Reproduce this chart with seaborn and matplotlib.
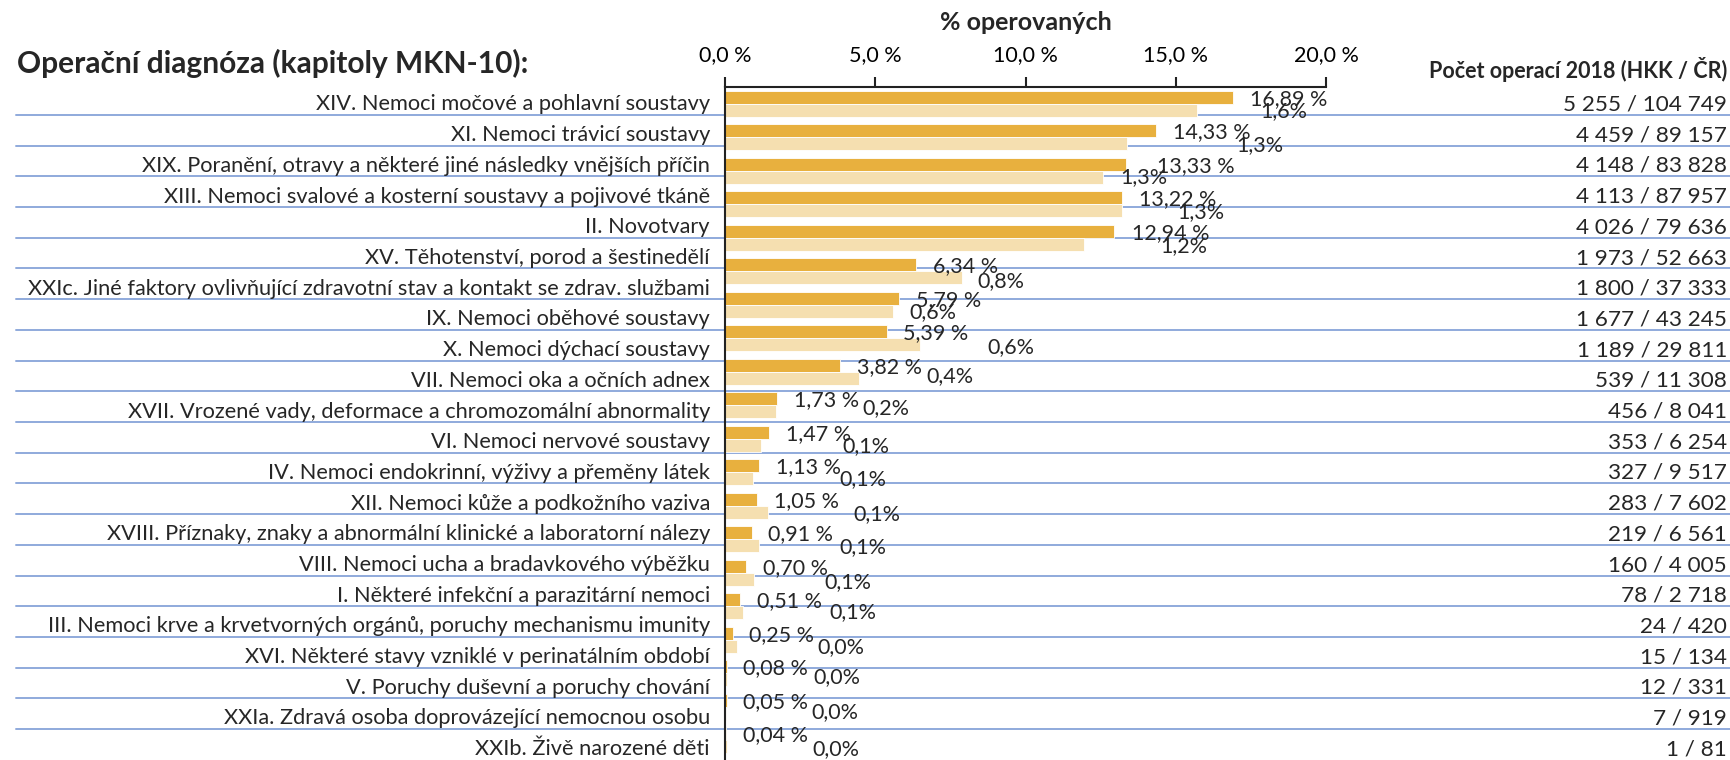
import matplotlib
matplotlib.use("Agg")
import pandas as pd
import matplotlib.pyplot as plt
from matplotlib.lines import Line2D
import seaborn as sns

W, H = 1731, 760

CATEGORIES = [
    "XIV. Nemoci močové a pohlavní soustavy",
    "XI. Nemoci trávicí soustavy",
    "XIX. Poranění, otravy a některé jiné následky vnějších příčin",
    "XIII. Nemoci svalové a kosterní soustavy a pojivové tkáně",
    "II. Novotvary",
    "XV. Těhotenství, porod a šestinedělí",
    "XXIc. Jiné faktory ovlivňující zdravotní stav a kontakt se zdrav. službami",
    "IX. Nemoci oběhové soustavy",
    "X. Nemoci dýchací soustavy",
    "VII. Nemoci oka a očních adnex",
    "XVII. Vrozené vady, deformace a chromozomální abnormality",
    "VI. Nemoci nervové soustavy",
    "IV. Nemoci endokrinní, výživy a přeměny látek",
    "XII. Nemoci kůže a podkožního vaziva",
    "XVIII. Příznaky, znaky a abnormální klinické a laboratorní nálezy",
    "VIII. Nemoci ucha a bradavkového výběžku",
    "I. Některé infekční a parazitární nemoci",
    "III. Nemoci krve a krvetvorných orgánů, poruchy mechanismu imunity",
    "XVI. Některé stavy vzniklé v perinatálním období",
    "V. Poruchy duševní a poruchy chování",
    "XXIa. Zdravá osoba doprovázející nemocnou osobu",
    "XXIb. Živě narozené děti",
]

# % operovanych (bars)
HKK_PCT = [16.89, 14.33, 13.33, 13.22, 12.94, 6.34, 5.79, 5.39, 3.82, 1.73, 1.47,
           1.13, 1.05, 0.91, 0.70, 0.51, 0.25, 0.08, 0.05, 0.04, 0.02, 0.003]
CR_PCT = [15.72, 13.38, 12.58, 13.20, 11.95, 7.90, 5.60, 6.49, 4.47, 1.70, 1.21,
          0.94, 1.43, 1.14, 0.98, 0.60, 0.41, 0.06, 0.02, 0.05, 0.14, 0.01]

# pocet operaci 2018
HKK_COUNTS = [5255, 4459, 4148, 4113, 4026, 1973, 1800, 1677, 1189, 539, 456,
              353, 327, 283, 219, 160, 78, 24, 15, 12, 7, 1]
CR_COUNTS = [104749, 89157, 83828, 87957, 79636, 52663, 37333, 43245, 29811, 11308, 8041,
             6254, 9517, 7602, 6561, 4005, 2718, 420, 134, 331, 919, 81]

X_TICKS = [0, 5, 10, 15, 20]

# label nudges in pixels (hand placed in the original)
HKK_LABEL_DX = [17, 17, 31, 17, 18, 17, 17, 16, 17, 17, 17, 17, 17, 16, 17, 17, 16, 16, 16, 17, 17, 17]
CR_LABEL_DX = [28, 81, -5, 55, 46, 62, 10, 100, 87, 85, 73, 80, 97, 87, 78, 89, 85, 86, 85, 86, 86, 86]
CR_LABEL_DY = [7.5, 8, 6.5, 8, 8.5, 10, 7.5, 9, 4.5, 3, 7.5, 7, 8.5, 8, 9.5, 6, 7.5, 4, 5.5, 9, 8, 8]

sns.set_style("white")
plt.rcParams["font.family"] = ["Lato", "DejaVu Sans"]

C_HKK = "#E8B03E"
C_CR = "#F5DFB0"
C_LINE = "#8FAADC"

df = pd.DataFrame({
    "kapitola": CATEGORIES * 2,
    "podil": HKK_PCT + CR_PCT,
    "oblast": ["HKK"] * len(CATEGORIES) + ["ČR"] * len(CATEGORIES),
})

fig = plt.figure(figsize=(W / 100, H / 100), dpi=100)

pitch = 33.5
ax_top = 87
ax_h = pitch * len(CATEGORIES)
ax = fig.add_axes([725 / W, 1 - (ax_top + ax_h) / H, (1326 - 725) / W, ax_h / H])
ax.set_facecolor("none")

sns.barplot(data=df, x="podil", y="kapitola", hue="oblast", hue_order=["HKK", "ČR"],
            palette=[C_HKK, C_CR], order=CATEGORIES, orient="h", width=0.764,
            saturation=1, errorbar=None, edgecolor="white", linewidth=0.6,
            legend=False, ax=ax)

ax.set_xlim(0, 20)
ax.set_ylim(len(CATEGORIES) - 0.5, -0.5)
ax.set_yticks([])
ax.set_ylabel("")
ax.set_xlabel("")
ax.xaxis.tick_top()
ax.set_xticks(X_TICKS)
ax.set_xticklabels([f"{t:.1f} %".replace(".", ",") for t in X_TICKS])
ax.tick_params(axis="x", direction="out", length=7, width=1.5, pad=9,
               labelsize=15.5, colors="#222222", labelcolor="black")
for side in ["right", "bottom"]:
    ax.spines[side].set_visible(False)
for side in ["left", "top"]:
    ax.spines[side].set_color("#222222")
    ax.spines[side].set_linewidth(1.5)

# data labels
for i, (h, c) in enumerate(zip(HKK_PCT, CR_PCT)):
    ax.annotate(f"{h:.2f} %".replace(".", ","), xy=(h, i), xytext=(HKK_LABEL_DX[i], 5),
                textcoords="offset pixels", ha="left", va="center", fontsize=15.5)
    ax.annotate(f"{c / 10:.1f}%".replace(".", ","), xy=(h, i),
                xytext=(CR_LABEL_DX[i], -CR_LABEL_DY[i]),
                textcoords="offset pixels", ha="left", va="center", fontsize=15.5)

fig.text(1026 / W, 1 - 23 / H, "% operovaných", ha="center", va="center",
         fontsize=18, fontweight="bold")
fig.text(17 / W, 1 - 63 / H, "Operační diagnóza (kapitoly MKN-10):", ha="left",
         va="center", fontsize=21.5, fontweight="bold")
fig.text(1727 / W, 1 - 70 / H, "Počet operací 2018 (HKK / ČR)", ha="right",
         va="center", fontsize=15.5, fontweight="bold")

# table rows on the sides
row_pitch = 30.7
for j, (cat, hc, cc) in enumerate(zip(CATEGORIES, HKK_COUNTS, CR_COUNTS)):
    y = 1 - (104.5 + row_pitch * j) / H
    fig.text(710 / W, y, cat, ha="right", va="center", fontsize=15.7)
    txt = f"{hc:,} / {cc:,}".replace(",", " ")
    fig.text(1727 / W, y, txt, ha="right", va="center", fontsize=16.2)

for i in range(len(CATEGORIES) - 1):
    y = 1 - (115 + row_pitch * i) / H
    fig.add_artist(Line2D([16 / W, 1], [y, y], color=C_LINE, lw=1.4, zorder=-1))

fig.savefig("out.png", dpi=100)
